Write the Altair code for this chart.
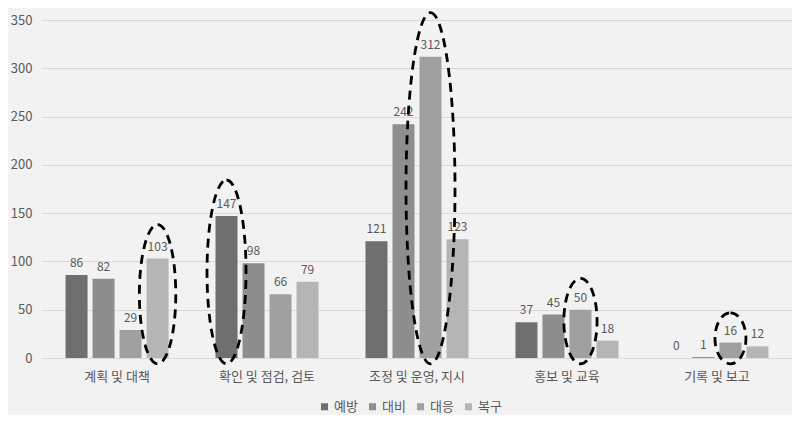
import altair as alt
import pandas as pd

categories = ["계획 및 대책", "확인 및 점검, 검토", "조정 및 운영, 지시", "홍보 및 교육", "기록 및 보고"]
series = ["예방", "대비", "대응", "복구"]
v_prevent = [86, 147, 121, 37, 0]
v_prepare = [82, 98, 242, 45, 1]
v_respond = [29, 66, 312, 50, 16]
v_recover = [103, 79, 123, 18, 12]
colors = ["#6f6f6f", "#8e8e8e", "#a0a0a0", "#b5b5b5"]

# highlighted (dashed ellipse) bars: (category index, series index)
highlights = [(0, 3), (1, 0), (2, 2), (3, 2), (4, 2)]

W, H = 750, 338
YMAX = 350
px = H / YMAX

vals = [v_prevent, v_prepare, v_respond, v_recover]
rows = []
for si, s in enumerate(series):
    for ci, c in enumerate(categories):
        rows.append({"category": c, "series": s, "value": vals[si][ci]})
df = pd.DataFrame(rows)

erows = []
for ci, si in highlights:
    v = vals[si][ci]
    top = v * 1.05 + 30
    bot = -6
    h = (top - bot) / 2 * px
    w = 14 + 0.06 * h
    path = f"M0,{-h:.1f} A{w:.1f},{h:.1f} 0 1,1 0,{h:.1f} A{w:.1f},{h:.1f} 0 1,1 0,{-h:.1f} Z"
    erows.append({"category": categories[ci], "series": series[si],
                  "center": (top + bot) / 2, "path": path})
edf = pd.DataFrame(erows)

xenc = alt.X("category:N", sort=categories,
             scale=alt.Scale(paddingInner=0.313, paddingOuter=0.157),
             axis=alt.Axis(title=None, labelAngle=0, ticks=False, domain=False,
                           labelFontSize=13, labelColor="#595959", labelPadding=12, grid=False))
xoff = alt.XOffset("series:N", sort=series, scale=alt.Scale(paddingInner=0.185, paddingOuter=0))
yscale = alt.Scale(domain=[0, YMAX], nice=False)

bars = alt.Chart(df).mark_bar().encode(
    x=xenc,
    xOffset=xoff,
    y=alt.Y("value:Q", scale=yscale,
            axis=alt.Axis(title=None, values=list(range(0, 351, 50)), ticks=False, domain=False,
                          labelFontSize=13, labelColor="#595959", labelPadding=10,
                          gridColor="#d9d9d9", gridWidth=1)),
    color=alt.Color("series:N", sort=series,
                    scale=alt.Scale(domain=series, range=colors),
                    legend=alt.Legend(title=None, orient="none", direction="horizontal",
                                      legendX=276, legendY=380,
                                      symbolType="square", symbolSize=50, symbolStrokeWidth=0,
                                      labelFontSize=13, labelColor="#595959",
                                      labelOffset=3, columnPadding=8)),
)

labels = alt.Chart(df).mark_text(baseline="bottom", dy=-5, fontSize=12, color="#595959").encode(
    x=alt.X("category:N", sort=categories),
    xOffset=alt.XOffset("series:N", sort=series),
    y=alt.Y("value:Q", scale=yscale),
    text=alt.Text("value:Q"),
)

ellipses = alt.Chart(edf).mark_point(filled=False, stroke="#000000", strokeWidth=2.8,
                                     strokeDash=[9, 6], opacity=1).encode(
    x=alt.X("category:N", sort=categories),
    xOffset=alt.XOffset("series:N", sort=series),
    y=alt.Y("center:Q", scale=yscale),
    shape=alt.Shape("path:N", scale=None, legend=None),
    size=alt.value(4),
)

chart = alt.layer(bars, labels, ellipses).properties(
    width=W, height=H,
    autosize=alt.AutoSizeParams(type="none"),
    padding={"left": 34, "top": 12, "right": 0, "bottom": 57},
    background="#f2f2f2",
).configure(font="Noto Sans CJK KR").configure_view(stroke=None)

chart.save("out.html", embed_options={"renderer": "svg", "actions": False})
